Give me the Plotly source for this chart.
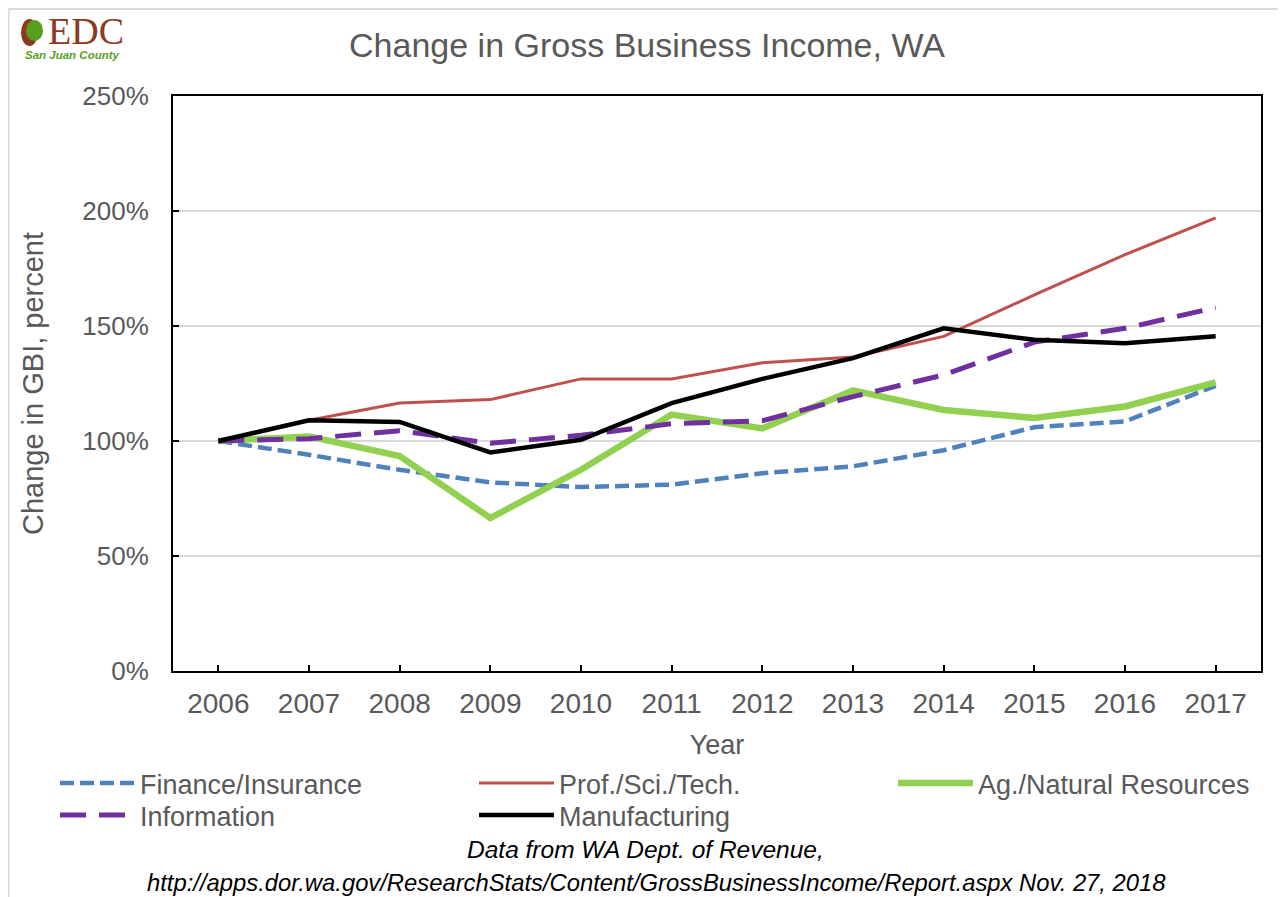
import plotly.graph_objects as go

# ---------------- data ----------------
years = list(range(2006, 2018))
year_labels = [str(y) for y in years]

finance = [100, 94, 87.5, 82, 80, 81, 86, 89, 96, 106, 108.5, 124]
prof_sci_tech = [100, 109, 116.5, 118, 127, 127, 134, 136.5, 145.5, 163.5, 181, 197]
ag_natural = [100, 102, 93.5, 66.5, 87.5, 111.5, 105.5, 122, 113.5, 110, 115, 125.5]
information = [100, 101, 104.5, 99, 102.5, 107.5, 108.8, 119.3, 128.7, 143, 149, 158]
manufacturing = [100, 109, 108.3, 95, 100.5, 116.5, 127, 136, 149, 144, 142.5, 145.5]

series_names = ["Finance/Insurance", "Prof./Sci./Tech.", "Ag./Natural Resources",
                "Information", "Manufacturing"]
y_ticks = [0, 50, 100, 150, 200, 250]

# ---------------- layout geometry ----------------
# the page body adds an 8px margin, so the figure starts at page (8, 8)
OFF = 8
W, H = 1286 - OFF, 897 - OFF
L, R, T, B = 173 - OFF, 25, 96 - OFF, 226
PW = W - L - R
PH = H - T - B


def px(page_x):
    return (page_x - OFF - L) / PW


def py(page_y):
    return (H - B - (page_y - OFF)) / PH


GRAY_TXT = "#595959"
FONT = "Liberation Sans, Arial, sans-serif"

fig = go.Figure()

fig.add_trace(go.Scatter(x=years, y=finance, mode="lines", name=series_names[0], legend="legend",
                         line=dict(color="#4F81BD", width=4.5, dash="14px,6px")))
fig.add_trace(go.Scatter(x=years, y=prof_sci_tech, mode="lines", name=series_names[1], legend="legend",
                         line=dict(color="#C0504D", width=3)))
fig.add_trace(go.Scatter(x=years, y=ag_natural, mode="lines", name=series_names[2], legend="legend",
                         line=dict(color="#92D050", width=6.5)))
fig.add_trace(go.Scatter(x=years, y=information, mode="lines", name=series_names[3], legend="legend2",
                         line=dict(color="#7030A0", width=5, dash="26px,13px")))
fig.add_trace(go.Scatter(x=years, y=manufacturing, mode="lines", name=series_names[4], legend="legend2",
                         line=dict(color="#000000", width=4.5)))

shapes = [
    # screenshot frame
    dict(type="line", xref="paper", yref="paper", x0=px(8.5), x1=px(1300), y0=py(9), y1=py(9),
         line=dict(color="#d9d9d9", width=2)),
    dict(type="line", xref="paper", yref="paper", x0=px(8.5), x1=px(8.5), y0=py(9), y1=py(910),
         line=dict(color="#d9d9d9", width=2)),
    # logo
    dict(type="circle", xref="paper", yref="paper", x0=px(21), x1=px(38), y0=py(46), y1=py(19),
         fillcolor="#8B3A1E", line=dict(width=0)),
    dict(type="circle", xref="paper", yref="paper", x0=px(26), x1=px(43), y0=py(41), y1=py(20),
         fillcolor="#5a9e1e", line=dict(width=0)),
]

annotations = [
    dict(text="EDC", xref="paper", yref="paper", x=px(86), y=py(31), showarrow=False,
         xanchor="center", yanchor="middle",
         font=dict(family="Liberation Serif, Times New Roman, serif", size=38, color="#8B3A1E")),
    dict(text="<b><i>San Juan County</i></b>", xref="paper", yref="paper", x=px(72), y=py(55),
         showarrow=False, xanchor="center", yanchor="middle",
         font=dict(family=FONT, size=11.5, color="#5a9e1e")),
    dict(text="<i>Data from WA Dept. of Revenue,</i>", xref="paper", yref="paper",
         x=px(645), y=py(850), showarrow=False, xanchor="center", yanchor="middle",
         font=dict(family=FONT, size=24.5, color="#000000")),
    dict(text="<i>http://apps.dor.wa.gov/ResearchStats/Content/GrossBusinessIncome/Report.aspx Nov. 27, 2018</i>",
         xref="paper", yref="paper", x=px(656), y=py(882), showarrow=False,
         xanchor="center", yanchor="middle",
         font=dict(family=FONT, size=23.8, color="#000000")),
]

legend_common = dict(orientation="h", xanchor="left", yanchor="top",
                     font=dict(size=27, color=GRAY_TXT, family=FONT),
                     entrywidth=329, entrywidthmode="pixels", itemwidth=75,
                     bgcolor="rgba(0,0,0,0)", traceorder="normal")

fig.update_layout(
    width=W, height=H,
    margin=dict(l=L, r=R, t=T, b=B, autoexpand=False),
    paper_bgcolor="white", plot_bgcolor="white",
    font=dict(family=FONT, color=GRAY_TXT),
    title=dict(text="Change in Gross Business Income, WA", xref="container", yref="container",
               x=(647 - OFF) / W, y=1 - (45 - OFF) / H, xanchor="center", yanchor="middle",
               font=dict(size=34, color=GRAY_TXT, family=FONT)),
    xaxis=dict(range=[2005.5, 2017.5], tickmode="array", tickvals=years, ticktext=year_labels,
               ticks="inside", ticklen=6, tickwidth=1.5, tickcolor="black",
               showline=True, linecolor="black", linewidth=2, mirror=True,
               showgrid=False, zeroline=False, ticklabelstandoff=6,
               tickfont=dict(size=28, color=GRAY_TXT, family=FONT),
               title=dict(text="Year", font=dict(size=27, color=GRAY_TXT, family=FONT), standoff=18)),
    yaxis=dict(range=[0, 250], tickmode="array", tickvals=y_ticks,
               ticktext=[f"{v}%" for v in y_ticks],
               ticks="inside", ticklen=6, tickwidth=1.5, tickcolor="black",
               showline=True, linecolor="black", linewidth=2, mirror=True,
               showgrid=True, gridcolor="#d9d9d9", gridwidth=1.5, zeroline=False,
               ticklabelstandoff=17,
               tickfont=dict(size=26, color=GRAY_TXT, family=FONT),
               title=dict(text="Change in GBI, percent",
                          font=dict(size=29, color=GRAY_TXT, family=FONT), standoff=30)),
    legend=dict(x=px(55), y=py(759), **legend_common),
    legend2=dict(x=px(55), y=py(791), **legend_common),
    shapes=shapes,
    annotations=annotations,
    showlegend=True,
)

fig.write_html("out.html", config={"displayModeBar": False})
